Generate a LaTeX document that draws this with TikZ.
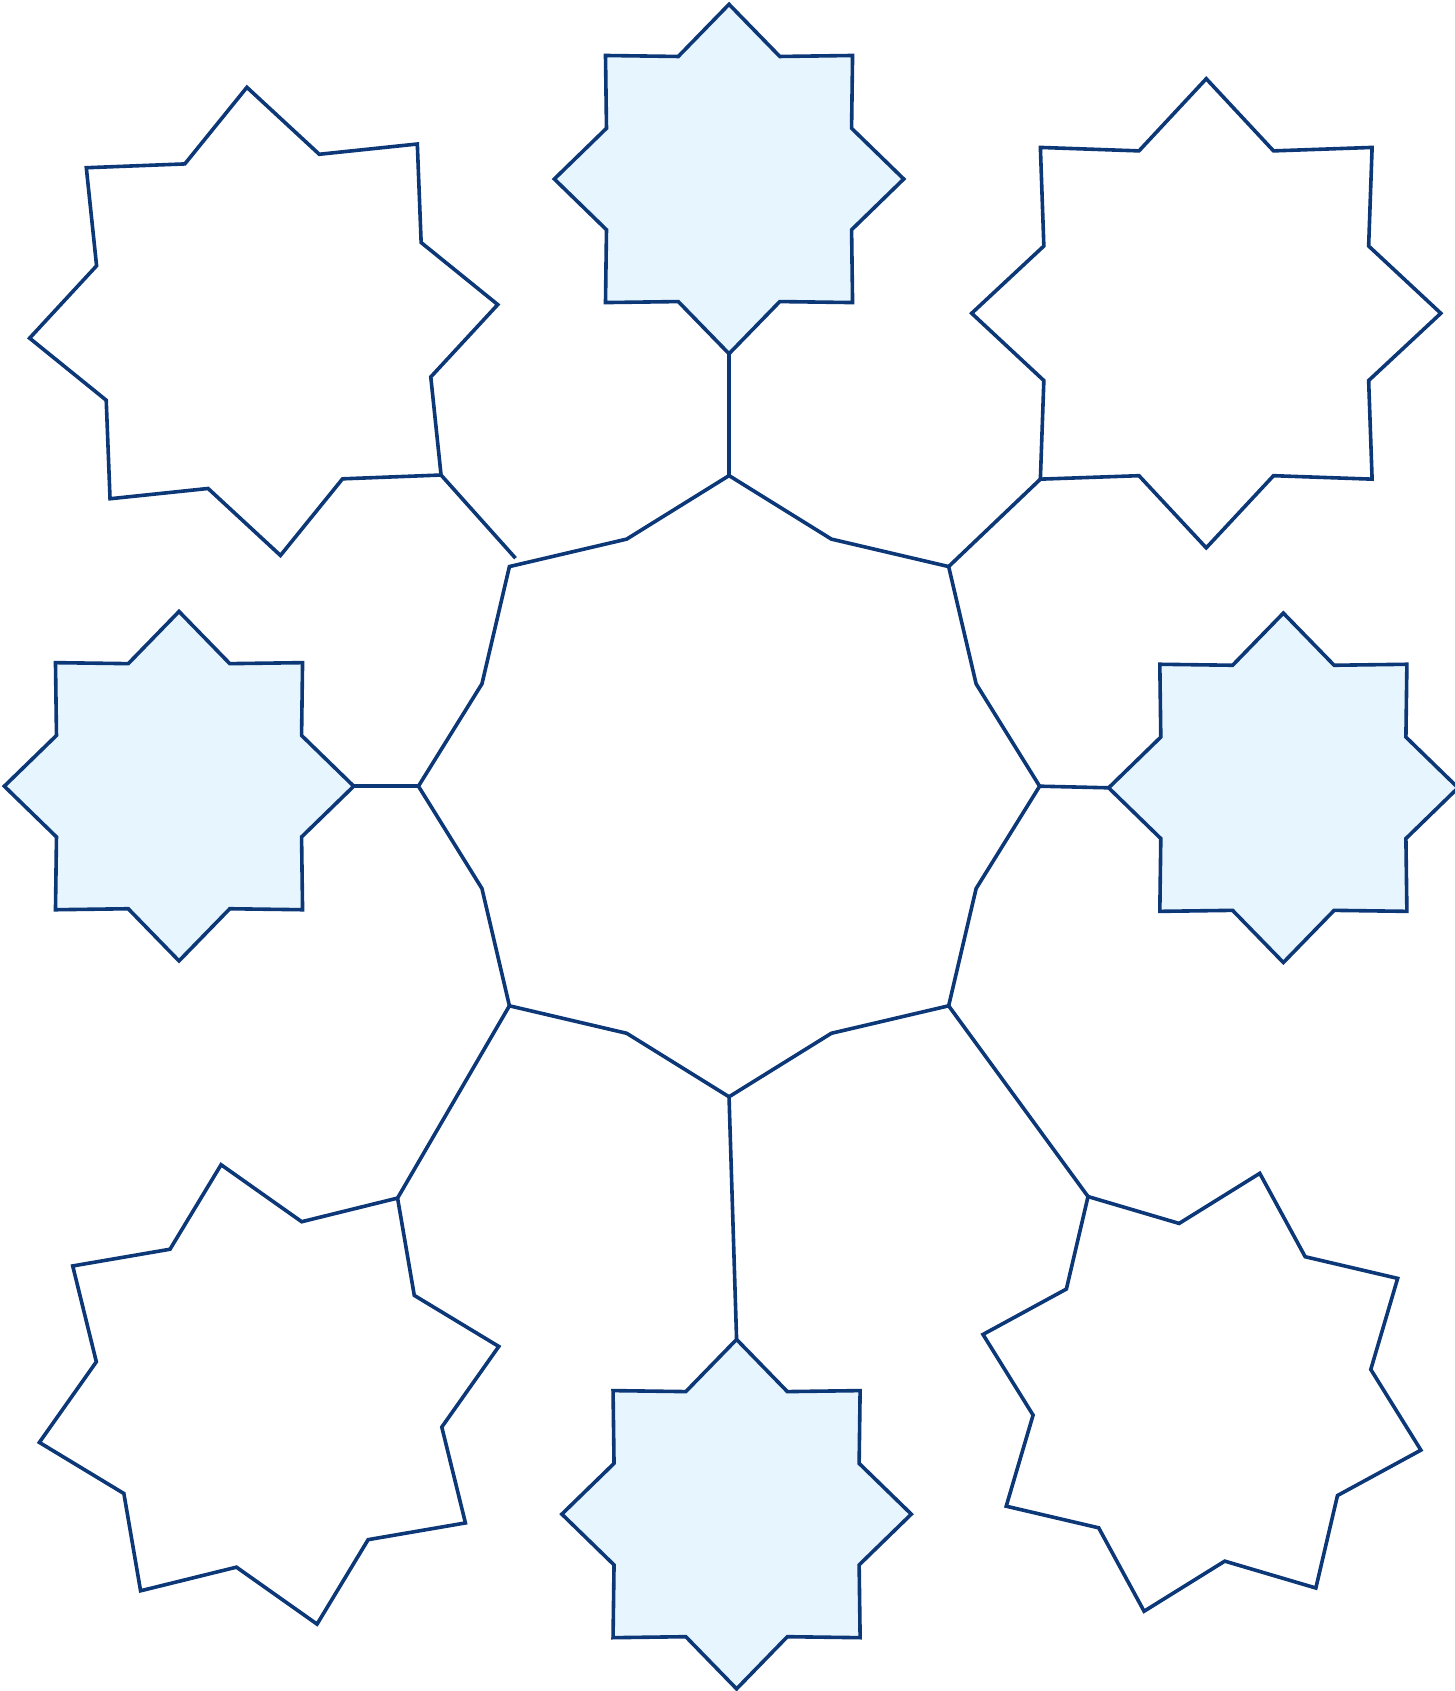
\documentclass[tikz,border=0pt]{standalone}
\usetikzlibrary{calc}
\definecolor{navy}{HTML}{0D3878}
\definecolor{paleblue}{HTML}{E7F5FE}
\tikzset{
  outline/.style={draw=navy, line width=1.9pt, line join=miter},
  filledstar/.style={outline, fill=paleblue},
  plainstar/.style={outline, fill=white},
  link/.style={draw=navy, line width=1.9pt},
}
% #1 center, #2 outer radius, #3 inner radius, #4 rotation, #5 style
\newcommand{\eightstar}[5]{%
  \path[#5, shift={(#1)}] plot[samples at={0,...,15}, variable=\k]
    ({#4+90+22.5*\k}:{#2-(#2-#3)*mod(\k,2)}) -- cycle;
}
\begin{document}
\begin{tikzpicture}[x=0.02cm, y=0.02cm]
\useasboundingbox (0,0) rectangle (1349,-1568);
% centres
\coordinate (hub) at (676,-729);
\coordinate (top) at (676,-166);
\coordinate (left) at (166,-729);
\coordinate (right) at (1190,-730.5);
\coordinate (bottom) at (683,-1404);
\coordinate (tl) at (244.5,-298);
\coordinate (tr) at (1118.5,-290.5);
\coordinate (bl) at (249.5,-1293);
\coordinate (br) at (1114.5,-1291);
% shapes
\eightstar{hub}{288}{248}{0}{plainstar}
\eightstar{top}{162}{123}{0}{filledstar}
\eightstar{left}{162}{123}{0}{filledstar}
\eightstar{right}{162}{123}{0}{filledstar}
\eightstar{bottom}{162}{123}{0}{filledstar}
\eightstar{tl}{217.6}{163.3}{4.1}{plainstar}
\eightstar{tr}{217.5}{163}{0}{plainstar}
\eightstar{bl}{217.6}{163}{11.8}{plainstar}
\eightstar{br}{210}{158}{-14.8}{plainstar}
% connector ends
\coordinate (hub-n) at ($(hub)+(90:288)$);
\coordinate (hub-s) at ($(hub)+(270:288)$);
\coordinate (hub-w) at ($(hub)+(180:288)$);
\coordinate (hub-e) at ($(hub)+(0:288)$);
\coordinate (hub-ne) at ($(hub)+(45:288)$);
\coordinate (hub-sw) at ($(hub)+(225:288)$);
\coordinate (hub-se) at ($(hub)+(315:288)$);
\coordinate (hub-nwgap) at (478,-517.6);
\coordinate (top-s) at ($(top)+(270:162)$);
\coordinate (left-e) at ($(left)+(0:162)$);
\coordinate (right-w) at ($(right)+(180:162)$);
\coordinate (bottom-n) at ($(bottom)+(90:162)$);
\coordinate (tl-p) at ($(tl)+(-40.9:217.6)$);
\coordinate (tr-p) at ($(tr)+(225:217.5)$);
\coordinate (bl-p) at ($(bl)+(56.8:217.6)$);
\coordinate (br-p) at ($(br)+(120.2:210)$);
% connectors
\draw[link] (top-s) -- (hub-n);
\draw[link] (left-e) -- (hub-w);
\draw[link] (hub-e) -- (right-w);
\draw[link] (hub-s) -- (bottom-n);
\draw[link] (tl-p) -- (hub-nwgap);
\draw[link] (tr-p) -- (hub-ne);
\draw[link] (bl-p) -- (hub-sw);
\draw[link] (br-p) -- (hub-se);
\end{tikzpicture}
\end{document}
